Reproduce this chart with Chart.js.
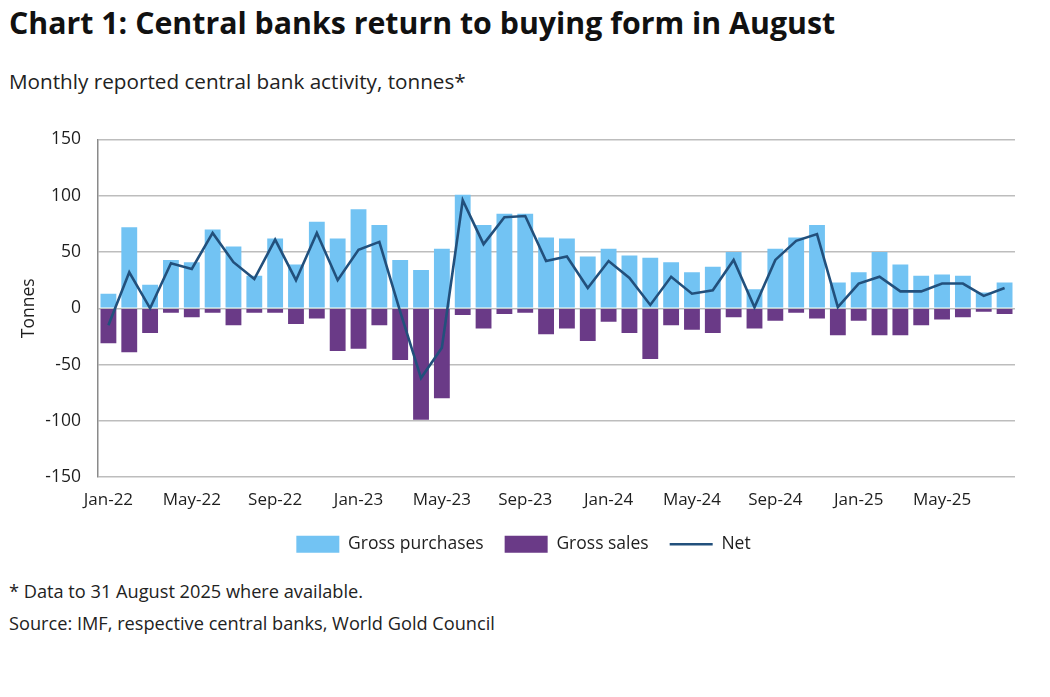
<!DOCTYPE html>
<html>
<head>
<meta charset="utf-8">
<script src="https://cdn.jsdelivr.net/npm/chart.js@4"></script>
<style>
  body { margin: 0; background: #fff; font-family: 'Open Sans', sans-serif; color: #111; }
  #wrap { position: relative; width: 1050px; height: 697px; overflow: hidden; }
  .title { position: absolute; left: 9px; top: 2px; font-size: 30.3px; font-weight: 700; white-space: nowrap; }
  .sub { position: absolute; left: 9px; top: 67px; font-size: 20.7px; white-space: nowrap; color: #222; }
  .note { position: absolute; left: 9px; font-size: 18.2px; white-space: nowrap; color: #222; }
  #box { position: absolute; left: 0; top: 112px; width: 1050px; height: 460px; }
</style>
</head>
<body>
<div id="wrap">
  <div class="title">Chart 1: Central banks return to buying form in August</div>
  <div class="sub">Monthly reported central bank activity, tonnes*</div>
  <div id="box"><canvas id="chart"></canvas></div>
  <div class="note" style="top:579px">* Data to 31 August 2025 where available.</div>
  <div class="note" style="top:611px">Source: IMF, respective central banks, World Gold Council</div>
</div>
<script>
const months = [
  'Jan-22', 'Feb-22', 'Mar-22', 'Apr-22', 'May-22', 'Jun-22', 'Jul-22', 'Aug-22', 'Sep-22', 'Oct-22', 'Nov-22', 'Dec-22',
  'Jan-23', 'Feb-23', 'Mar-23', 'Apr-23', 'May-23', 'Jun-23', 'Jul-23', 'Aug-23', 'Sep-23', 'Oct-23', 'Nov-23', 'Dec-23',
  'Jan-24', 'Feb-24', 'Mar-24', 'Apr-24', 'May-24', 'Jun-24', 'Jul-24', 'Aug-24', 'Sep-24', 'Oct-24', 'Nov-24', 'Dec-24',
  'Jan-25', 'Feb-25', 'Mar-25', 'Apr-25', 'May-25', 'Jun-25', 'Jul-25', 'Aug-25',
];
const grossPurchases = [
  13, 72, 21, 43, 41, 70, 55, 29, 62, 39, 77, 62,
  88, 74, 43, 34, 53, 101, 74, 84, 84, 63, 62, 46,
  53, 47, 45, 41, 32, 37, 50, 17, 53, 63, 74, 23,
  32, 50, 39, 29, 30, 29, 14, 23,
];
const grossSales = [
  -31, -39, -22, -4, -8, -4, -15, -4, -4, -14, -9, -38,
  -36, -15, -46, -99, -80, -6, -18, -5, -4, -23, -18, -29,
  -12, -22, -45, -15, -19, -22, -8, -18, -11, -4, -9, -24,
  -11, -24, -24, -15, -10, -8, -3, -5,
];
const net = [
  -15, 32, 0, 40, 35, 67, 41, 26, 61, 25, 67, 25,
  52, 59, -3, -62, -35, 96, 57, 81, 82, 42, 46, 18,
  42, 27, 3, 28, 13, 16, 43, 1, 43, 60, 66, 1,
  22, 28, 15, 15, 22, 22, 11, 18,
];
const yTicks = [150, 100, 50, 0, -50, -100, -150];

const FONT = "'Open Sans', sans-serif";
const TEXT = '#1e1e1e';

// pull the legend a little up and right, closer to where the source puts it
const legendNudge = {
  id: 'legendNudge',
  afterLayout(chart) {
    const lg = chart.legend;
    lg.top -= 9;
    lg.bottom -= 9;
    lg.left += 16;
    lg.right += 16;
  },
};

new Chart(document.getElementById('chart'), {
  data: {
    labels: months,
    datasets: [
      {
        type: 'line',
        label: 'Net',
        data: net,
        stack: 'net',
        borderColor: '#22507c',
        backgroundColor: '#22507c',
        borderWidth: 2.6,
        pointRadius: 0,
        tension: 0,
        order: 0,
      },
      {
        type: 'bar',
        label: 'Gross purchases',
        data: grossPurchases,
        stack: 'gross',
        backgroundColor: '#72c3f3',
        barPercentage: 0.76,
        categoryPercentage: 1,
        order: 1,
      },
      {
        type: 'bar',
        label: 'Gross sales',
        data: grossSales,
        stack: 'gross',
        backgroundColor: '#6a3a87',
        barPercentage: 0.76,
        categoryPercentage: 1,
        order: 1,
      },
    ],
  },
  options: {
    responsive: true,
    maintainAspectRatio: false,
    animation: false,
    layout: { padding: { top: 6, right: 35, left: 0, bottom: 0 } },
    scales: {
      x: {
        stacked: true,
        grid: { display: false, drawTicks: false },
        border: { display: false },
        ticks: {
          autoSkip: false,
          maxRotation: 0,
          padding: 13,
          color: TEXT,
          font: { family: FONT, size: 17 },
          callback(value, index) {
            return index % 4 === 0 ? months[index] : '';
          },
        },
      },
      y: {
        stacked: true,
        min: -150,
        max: 150,
        afterBuildTicks(scale) {
          scale.ticks = yTicks.map((v) => ({ value: v }));
        },
        afterFit(scale) {
          scale.width = 98;
        },
        grid: { color: '#bdbdbd', lineWidth: 1.5, drawTicks: false },
        border: { display: true, color: '#8a8a8a', width: 1.5 },
        title: {
          display: true,
          text: 'Tonnes',
          color: TEXT,
          font: { family: FONT, size: 17.5 },
          padding: { top: 19, bottom: 0 },
        },
        ticks: {
          padding: 17,
          color: TEXT,
          font: { family: FONT, size: 17.5 },
        },
      },
    },
    plugins: {
      legend: {
        position: 'bottom',
        labels: {
          color: TEXT,
          font: { family: FONT, size: 17.5 },
          usePointStyle: true,
          pointStyleWidth: 43,
          boxHeight: 17,
          padding: 21,
          generateLabels(chart) {
            const order = [1, 2, 0];
            return order.map((i) => {
              const ds = chart.data.datasets[i];
              const isLine = ds.type === 'line';
              return {
                text: ds.label,
                datasetIndex: i,
                fillStyle: ds.backgroundColor,
                strokeStyle: isLine ? ds.borderColor : ds.backgroundColor,
                lineWidth: isLine ? 2.6 : 0,
                pointStyle: isLine ? 'line' : 'rect',
                fontColor: TEXT,
                hidden: false,
              };
            });
          },
        },
      },
      tooltip: { enabled: false },
    },
  },
  plugins: [legendNudge],
});
</script>
</body>
</html>
